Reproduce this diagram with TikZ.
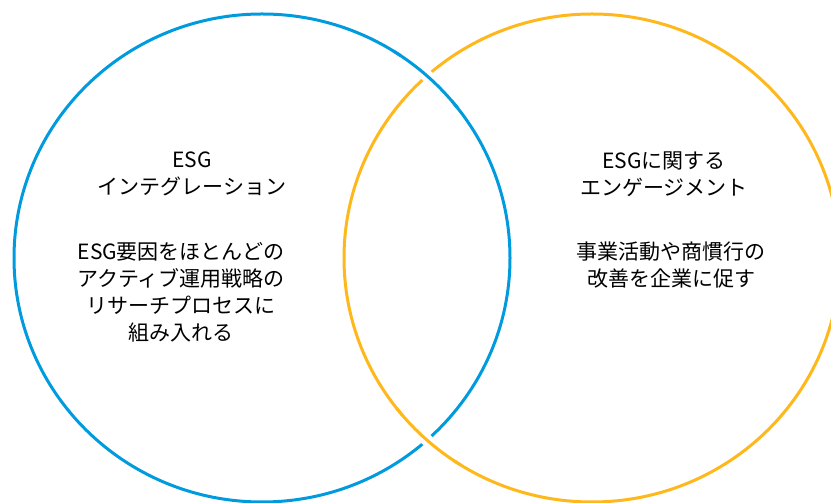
\documentclass[tikz,border=0pt]{standalone}
\usepackage{fontspec}
\newfontfamily\jpfont{Noto Sans CJK JP}
\definecolor{esgblue}{RGB}{0,155,222}
\definecolor{esgorange}{RGB}{255,184,28}
\begin{document}
\begin{tikzpicture}[x=1pt,y=1pt,
  ring/.style={line width=3pt},
  gapline/.style={white,line width=12pt},
  txt/.style={align=center,inner sep=0pt,font=\jpfont\fontsize{21}{27}\selectfont}]
\useasboundingbox (0,0) rectangle (831,503);
\clip (0,0) rectangle (831,503);
\coordinate (cb) at (262,245);
\coordinate (co) at (592,245);
% full rings
\draw[ring,esgblue] (cb) ellipse[x radius=248pt,y radius=244pt];
\draw[ring,esgorange] (co) ellipse[x radius=248pt,y radius=244pt];
% top crossing: blue over orange
\draw[gapline] ([shift={(40:248pt and 244pt)}]cb) arc[start angle=40,end angle=56,x radius=248pt,y radius=244pt];
\draw[ring,esgblue] ([shift={(38:248pt and 244pt)}]cb) arc[start angle=38,end angle=58,x radius=248pt,y radius=244pt];
% bottom crossing: orange over blue
\draw[gapline] ([shift={(220:248pt and 244pt)}]co) arc[start angle=220,end angle=236,x radius=248pt,y radius=244pt];
\draw[ring,esgorange] ([shift={(218:248pt and 244pt)}]co) arc[start angle=218,end angle=238,x radius=248pt,y radius=244pt];
% texts
\node[txt] (lt) at (192,329) {ESG\\インテグレーション};
\node[txt] (lb) at (181,211) {ESG要因をほとんどの\\アクティブ運用戦略の\\リサーチプロセスに\\組み入れる};
\node[txt] (rt) at (664,329) {ESGに関する\\エンゲージメント};
\node[txt] (rb) at (671,238) {事業活動や商慣行の\\改善を企業に促す};
\end{tikzpicture}
\end{document}
